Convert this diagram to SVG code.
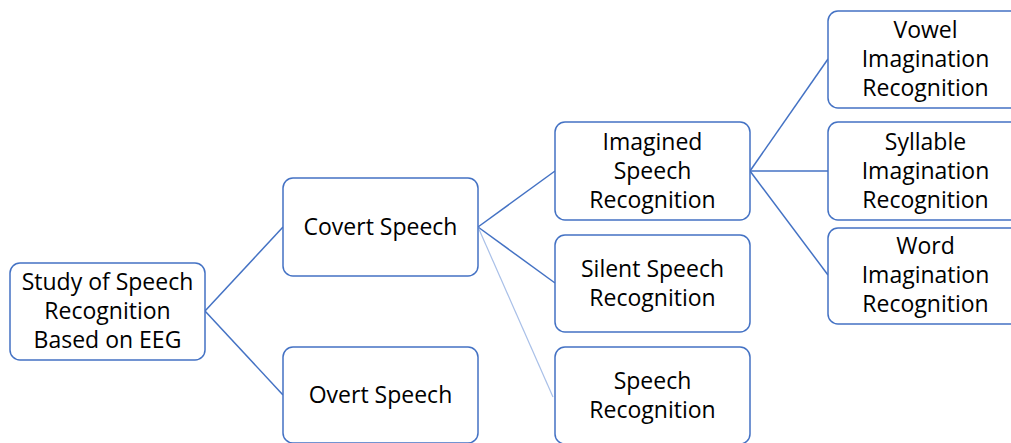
<svg xmlns="http://www.w3.org/2000/svg" width="1011" height="443" viewBox="0 0 1011 443">
  <style>
    .box { fill: #ffffff; stroke: #4472C4; stroke-width: 1.5; }
    .lbl { font-family: "Open Sans", "Noto Sans", sans-serif; font-size: 23px; fill: #000000; text-anchor: middle; }
    .link { stroke: #4472C4; stroke-width: 1.5; fill: none; }
    .link-light { stroke: #A9C0E8; stroke-width: 1.2; fill: none; }
  </style>
  <rect width="1011" height="443" fill="#ffffff"/>

  <!-- connectors -->
  <g id="connectors">
    <line class="link" x1="205" y1="311" x2="283" y2="227"/>
    <line class="link" x1="205" y1="311" x2="283" y2="395"/>
    <line class="link" x1="478" y1="227" x2="555" y2="171"/>
    <line class="link" x1="478" y1="227" x2="555" y2="283"/>
    <line class="link-light" x1="478" y1="227" x2="553" y2="397"/>
    <line class="link" x1="750" y1="171" x2="828" y2="59"/>
    <line class="link" x1="750" y1="171" x2="828" y2="171"/>
    <line class="link" x1="750" y1="171" x2="828" y2="275"/>
  </g>

  <g id="root">
    <rect class="box" x="10" y="263" width="195" height="97" rx="10"/>
    <text class="lbl" x="107.5" y="290">Study of Speech</text>
    <text class="lbl" x="107.5" y="319">Recognition</text>
    <text class="lbl" x="107.5" y="348">Based on EEG</text>
  </g>

  <g id="covert">
    <rect class="box" x="283" y="178" width="195" height="98" rx="10"/>
    <text class="lbl" x="380.5" y="235">Covert Speech</text>
  </g>

  <g id="overt">
    <rect class="box" x="283" y="347" width="195" height="96" rx="10"/>
    <text class="lbl" x="380.5" y="403">Overt Speech</text>
  </g>

  <g id="imagined">
    <rect class="box" x="555" y="122" width="195" height="98" rx="10"/>
    <text class="lbl" x="652.5" y="150">Imagined</text>
    <text class="lbl" x="652.5" y="179">Speech</text>
    <text class="lbl" x="652.5" y="208">Recognition</text>
  </g>

  <g id="silent">
    <rect class="box" x="555" y="235" width="195" height="97" rx="10"/>
    <text class="lbl" x="652.5" y="277">Silent Speech</text>
    <text class="lbl" x="652.5" y="306">Recognition</text>
  </g>

  <g id="speech">
    <rect class="box" x="555" y="347" width="195" height="97" rx="10"/>
    <text class="lbl" x="652.5" y="389">Speech</text>
    <text class="lbl" x="652.5" y="418">Recognition</text>
  </g>

  <g id="vowel">
    <rect class="box" x="828" y="11" width="195" height="97" rx="10"/>
    <text class="lbl" x="925.5" y="38">Vowel</text>
    <text class="lbl" x="925.5" y="67">Imagination</text>
    <text class="lbl" x="925.5" y="96">Recognition</text>
  </g>

  <g id="syllable">
    <rect class="box" x="828" y="122" width="195" height="98" rx="10"/>
    <text class="lbl" x="925.5" y="150">Syllable</text>
    <text class="lbl" x="925.5" y="179">Imagination</text>
    <text class="lbl" x="925.5" y="208">Recognition</text>
  </g>

  <g id="word">
    <rect class="box" x="828" y="228" width="195" height="96" rx="10"/>
    <text class="lbl" x="925.5" y="254">Word</text>
    <text class="lbl" x="925.5" y="283">Imagination</text>
    <text class="lbl" x="925.5" y="312">Recognition</text>
  </g>
</svg>
